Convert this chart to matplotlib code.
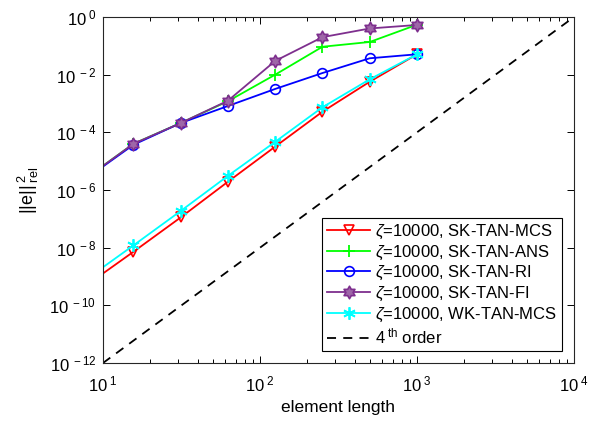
import numpy as np
import matplotlib
matplotlib.use("Agg")
from matplotlib import pyplot as plt
from matplotlib.path import Path
from matplotlib.ticker import FixedLocator, NullLocator, FuncFormatter

plt.rcParams['font.family'] = ['Liberation Sans', 'DejaVu Sans']
plt.rcParams['mathtext.fontset'] = 'custom'
plt.rcParams['mathtext.rm'] = 'Liberation Sans'
plt.rcParams['mathtext.it'] = 'Liberation Sans:italic'
plt.rcParams['mathtext.sf'] = 'Liberation Sans'

# element lengths (first one lies left of the axis and gets clipped)
h = [7.8125, 15.625, 31.25, 62.5, 125, 250, 500, 1000]

# relative squared error
sk_mcs = [4.9e-10, 7.2e-9, 1.12e-7, 1.94e-6, 3.2e-5, 5.2e-4, 5.7e-3, 5.1e-2]
sk_ans = [2.6e-6, 4.0e-5, 2.1e-4, 1.2e-3, 1.0e-2, 9.3e-2, 1.36e-1, 5.4e-1]
sk_ri = [2.5e-6, 3.7e-5, 2.1e-4, 8.2e-4, 3.2e-3, 1.14e-2, 3.7e-2, 5.1e-2]
sk_fi = [2.6e-6, 4.0e-5, 2.1e-4, 1.25e-3, 3.0e-2, 2.0e-1, 4.0e-1, 5.3e-1]
wk_mcs = [8.0e-10, 1.2e-8, 1.87e-7, 3.1e-6, 4.7e-5, 7.4e-4, 6.9e-3, 5.1e-2]

ref_x = [1e1, 1e4]
ref_y = [1e-12, 1e0]

y_ticks = [1e-12, 1e-10, 1e-8, 1e-6, 1e-4, 1e-2, 1e0]

labels = [r'$\zeta$=10000, SK-TAN-MCS', r'$\zeta$=10000, SK-TAN-ANS',
          r'$\zeta$=10000, SK-TAN-RI', r'$\zeta$=10000, SK-TAN-FI',
          r'$\zeta$=10000, WK-TAN-MCS', r'4$^{\;\rm th}$ order']

# matlab-like hexagram (star of David outline)
ang = np.pi / 2 + np.arange(12) * np.pi / 6
rad = np.where(np.arange(12) % 2 == 0, 1.0, 1 / np.sqrt(3))
verts = np.column_stack([rad * np.cos(ang), rad * np.sin(ang)])
hexagram = Path(np.vstack([verts, verts[:1]]), closed=True)

fig = plt.figure(figsize=(5.95, 4.25), dpi=100)
ax = fig.add_axes([103/595, 62/425, 471/595, 346/425])

lw = 1.3
ax.plot(h, sk_mcs, color=(1, 0, 0), lw=lw, marker='v', ms=7, mfc='none', mew=1.2, label=labels[0])
ax.plot(h, sk_ans, color=(0, 1, 0), lw=lw, marker='+', ms=9, mew=1.3, label=labels[1])
ax.plot(h, sk_ri, color=(0, 0, 1), lw=lw, marker='o', ms=7, mfc='none', mew=1.2, label=labels[2])
ax.plot(h, sk_fi, color=(0.494, 0.184, 0.556), lw=lw, marker=hexagram, ms=9,
        mfc=(0.62, 0.40, 0.66), mew=1.2, label=labels[3])
ax.plot(h, wk_mcs, color=(0, 1, 1), lw=lw, marker=(6, 2, 0), ms=9, mew=1.3, label=labels[4])
ax.plot(ref_x, ref_y, color='k', lw=lw, ls=(0, (5, 4)), label=labels[5])

ax.set_xscale('log')
ax.set_yscale('log')
ax.set_xlim(1e1, 1e4)
ax.set_ylim(1e-12, 1e0)
ax.yaxis.set_major_locator(FixedLocator(y_ticks))
ax.yaxis.set_minor_locator(NullLocator())

fmt = FuncFormatter(lambda v, p: r'$\mathregular{10^{\;%d}}$' % round(np.log10(v)))
ax.xaxis.set_major_formatter(fmt)
ax.yaxis.set_major_formatter(fmt)

ax.tick_params(which='both', direction='in', top=True, right=True, labelsize=12, width=0.7)
ax.tick_params(which='major', length=5)
ax.tick_params(which='minor', length=3)
ax.tick_params(axis='x', which='major', pad=8)
ax.tick_params(axis='y', which='major', pad=5)
for s in ax.spines.values():
    s.set_linewidth(0.8)
    s.set_color('#262626')

ax.set_xlabel('element length', fontsize=12.5, labelpad=4)
ax.set_ylabel(r'$||\mathrm{e}||^{\;2}_{\;\mathrm{rel}}$', fontsize=13, labelpad=6)

leg = ax.legend(loc='lower right', fontsize=12, fancybox=False, framealpha=1,
                edgecolor='k', borderpad=0.3, labelspacing=0.15, handlelength=2.6,
                handletextpad=0.3, borderaxespad=0.7)
leg.get_frame().set_linewidth(0.8)

fig.savefig('out.png', dpi=100)
